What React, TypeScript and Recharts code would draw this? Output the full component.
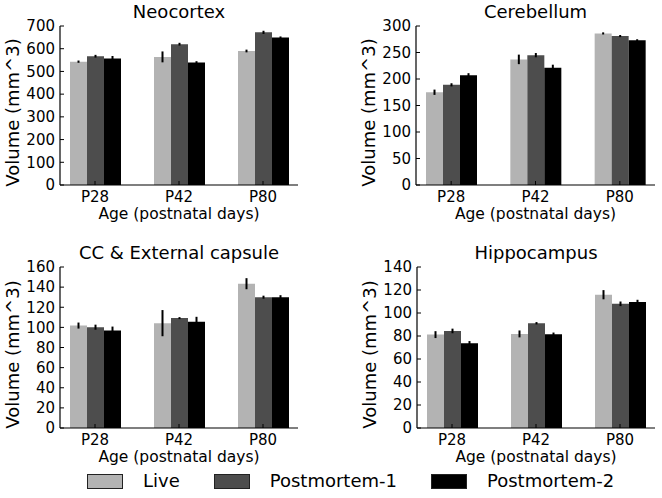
import React from 'react';
import { BarChart, Bar, XAxis, YAxis, ErrorBar } from 'recharts';

const categories = ['P28', 'P42', 'P80'];
const seriesNames = ['Live', 'Postmortem-1', 'Postmortem-2'];
const seriesColors = ['#b3b3b3', '#4d4d4d', '#000000'];
const xLabel = 'Age (postnatal days)';
const yLabel = 'Volume (mm^3)';

// Neocortex
const neoLive = [543, 564, 590];
const neoLiveErr = [5, 24, 6];
const neoPm1 = [567, 620, 672];
const neoPm1Err = [6, 6, 7];
const neoPm2 = [557, 539, 649];
const neoPm2Err = [11, 6, 5];
const neoTicks = [0, 100, 200, 300, 400, 500, 600, 700];

// Cerebellum
const cbLive = [175, 237, 286];
const cbLiveErr = [5, 9, 2];
const cbPm1 = [189, 245, 281];
const cbPm1Err = [3, 4, 2];
const cbPm2 = [207, 221, 273];
const cbPm2Err = [4, 6, 2];
const cbTicks = [0, 50, 100, 150, 200, 250, 300];

// CC & External capsule
const ccLive = [101.8, 104.2, 143.4];
const ccLiveErr = [3, 13, 5.5];
const ccPm1 = [100.2, 109.2, 130];
const ccPm1Err = [2.5, 1, 1.5];
const ccPm2 = [96.8, 105.5, 130];
const ccPm2Err = [4, 5, 2];
const ccTicks = [0, 20, 40, 60, 80, 100, 120, 140, 160];

// Hippocampus
const hipLive = [81.2, 81.8, 115.9];
const hipLiveErr = [3, 3, 4];
const hipPm1 = [84.4, 91.1, 108];
const hipPm1Err = [2, 1, 2];
const hipPm2 = [73.6, 81.5, 109.5];
const hipPm2Err = [2, 1.5, 2];
const hipTicks = [0, 20, 40, 60, 80, 100, 120, 140];

const FONT = '"DejaVu Sans", sans-serif';

function buildRows(
  live: number[], liveErr: number[],
  pm1: number[], pm1Err: number[],
  pm2: number[], pm2Err: number[]
) {
  return categories.map((c, i) => ({
    cat: c,
    s0: live[i], e0: liveErr[i],
    s1: pm1[i], e1: pm1Err[i],
    s2: pm2[i], e2: pm2Err[i],
  }));
}

const XLabelContent = (props: any) => {
  const vb = props.viewBox || {};
  return (
    <text
      x={vb.x + vb.width / 2}
      y={vb.y + 34}
      textAnchor="middle"
      fontSize={15.5}
      fontFamily={FONT}
      fill="#000"
    >
      {xLabel}
    </text>
  );
};

const YLabelContent = (props: any) => {
  const vb = props.viewBox || {};
  const x = vb.x + vb.width - 41;
  const y = vb.y + vb.height / 2 + 7;
  return (
    <text
      x={x}
      y={y}
      transform={`rotate(-90, ${x}, ${y})`}
      textAnchor="middle"
      fontSize={18}
      fontFamily={FONT}
      fill="#000"
    >
      {yLabel}
    </text>
  );
};

type PanelProps = {
  left: number;
  top: number;
  yAxisWidth: number;
  plotWidth: number;
  plotHeight: number;
  title: string;
  rows: any[];
  ticks: number[];
};

function Panel({ left, top, yAxisWidth, plotWidth, plotHeight, title, rows, ticks }: PanelProps) {
  const marginTop = 26;
  const xAxisHeight = 50;
  const width = 331;
  const height = marginTop + plotHeight + xAxisHeight;
  const marginRight = width - yAxisWidth - plotWidth;
  return (
    <div style={{ position: 'absolute', left, top, width, height }}>
      <div
        style={{
          position: 'absolute',
          left: yAxisWidth,
          width: plotWidth,
          top: 3,
          textAlign: 'center',
          fontFamily: FONT,
          fontSize: 18,
          lineHeight: '18px',
          color: '#000',
          whiteSpace: 'nowrap',
        }}
      >
        {title}
      </div>
      <BarChart
        width={width}
        height={height}
        data={rows}
        margin={{ top: marginTop, right: marginRight, left: 0, bottom: 0 }}
        barGap={0}
        barSize={17}
      >
        <XAxis
          dataKey="cat"
          height={xAxisHeight}
          padding={{ left: -7, right: -7 }}
          tickSize={-4}
          tickMargin={10}
          axisLine={{ stroke: '#000', strokeWidth: 1.2 }}
          tickLine={{ stroke: '#000', strokeWidth: 1 }}
          tick={{ fill: '#000', fontSize: 15, fontFamily: FONT }}
          interval={0}
          label={<XLabelContent />}
        />
        <YAxis
          type="number"
          width={yAxisWidth}
          domain={[ticks[0], ticks[ticks.length - 1]]}
          ticks={ticks}
          interval={0}
          tickSize={-4}
          tickMargin={9}
          axisLine={{ stroke: '#000', strokeWidth: 1.2 }}
          tickLine={{ stroke: '#000', strokeWidth: 1 }}
          tick={{ fill: '#000', fontSize: 15, fontFamily: FONT }}
          label={<YLabelContent />}
        />
        {seriesNames.map((name, i) => (
          <Bar
            key={name}
            name={name}
            dataKey={`s${i}`}
            fill={seriesColors[i]}
            isAnimationActive={false}
          >
            <ErrorBar
              dataKey={`e${i}`}
              width={0}
              stroke="#000"
              strokeWidth={2}
              direction="y"
              isAnimationActive={false}
            />
          </Bar>
        ))}
      </BarChart>
    </div>
  );
}

function LegendRow() {
  return (
    <div
      style={{
        position: 'absolute',
        left: 87,
        top: 472,
        display: 'flex',
        alignItems: 'center',
        fontFamily: FONT,
        fontSize: 18,
        lineHeight: '18px',
        color: '#000',
        whiteSpace: 'nowrap',
      }}
    >
      {seriesNames.map((name, i) => (
        <div key={name} style={{ display: 'flex', alignItems: 'center', marginRight: 34 }}>
          <div
            style={{
              width: 34,
              height: 13,
              background: seriesColors[i],
              border: '1px solid #222',
              marginRight: 20,
            }}
          />
          <span>{name}</span>
        </div>
      ))}
    </div>
  );
}

export default function App() {
  const neoRows = buildRows(neoLive, neoLiveErr, neoPm1, neoPm1Err, neoPm2, neoPm2Err);
  const cbRows = buildRows(cbLive, cbLiveErr, cbPm1, cbPm1Err, cbPm2, cbPm2Err);
  const ccRows = buildRows(ccLive, ccLiveErr, ccPm1, ccPm1Err, ccPm2, ccPm2Err);
  const hipRows = buildRows(hipLive, hipLiveErr, hipPm1, hipPm1Err, hipPm2, hipPm2Err);
  return (
    <div
      style={{
        position: 'absolute',
        left: 0,
        top: 0,
        width: 662,
        height: 498,
        background: '#fff',
        overflow: 'hidden',
      }}
    >
      <Panel left={0} top={0} yAxisWidth={60} plotWidth={238} plotHeight={159} title="Neocortex" rows={neoRows} ticks={neoTicks} />
      <Panel left={331} top={0} yAxisWidth={85} plotWidth={239} plotHeight={159} title="Cerebellum" rows={cbRows} ticks={cbTicks} />
      <Panel left={0} top={241} yAxisWidth={60} plotWidth={238} plotHeight={161} title="CC & External capsule" rows={ccRows} ticks={ccTicks} />
      <Panel left={331} top={241} yAxisWidth={86} plotWidth={238} plotHeight={161} title="Hippocampus" rows={hipRows} ticks={hipTicks} />
      <LegendRow />
    </div>
  );
}
